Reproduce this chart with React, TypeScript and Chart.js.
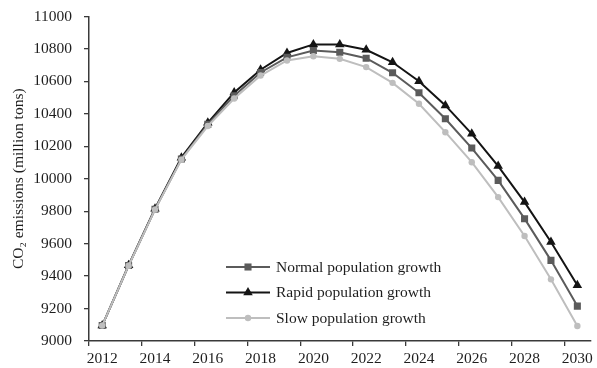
import React, { useEffect, useRef } from "react";
import { Chart, registerables } from "chart.js";

Chart.register(...registerables);

// Projected CO2 emissions (million tons) under three population scenarios
const years = [
  "2012", "2013", "2014", "2015", "2016", "2017", "2018", "2019", "2020", "2021",
  "2022", "2023", "2024", "2025", "2026", "2027", "2028", "2029", "2030",
];
const normalGrowth = [
  9095, 9465, 9812, 10122, 10335, 10512, 10655, 10748, 10790, 10780,
  10743, 10653, 10530, 10370, 10189, 9990, 9754, 9497, 9215,
];
const rapidGrowth = [
  9095, 9467, 9815, 10130, 10345, 10532, 10672, 10775, 10828, 10828,
  10795, 10718, 10601, 10452, 10277, 10078, 9856, 9610, 9343,
];
const slowGrowth = [
  9095, 9464, 9810, 10118, 10325, 10495, 10636, 10729, 10755, 10739,
  10688, 10591, 10462, 10287, 10102, 9887, 9647, 9380, 9092,
];
const seriesNames = [
  "Normal population growth",
  "Rapid population growth",
  "Slow population growth",
];

const FONT_FAMILY = "'Liberation Serif', 'Times New Roman', serif";
const FONT_SIZE = 15.5;
const TEXT_COLOR = "#1e1e1e";
const AXIS_COLOR = "#3a3a3a";
const COLORS = ["#5b5b5b", "#141414", "#bebebe"];
const STYLES = ["rect", "triangle", "circle"] as const;
const RADII = [5, 5.5, 3.2];

function drawMarker(ctx: CanvasRenderingContext2D, style: string, x: number, y: number, r: number, color: string) {
  ctx.beginPath();
  if (style === "rect") {
    const s = Math.SQRT1_2 * r;
    ctx.rect(x - s, y - s, 2 * s, 2 * s);
  } else if (style === "triangle") {
    let rad = 0;
    ctx.moveTo(x + Math.sin(rad) * r, y - Math.cos(rad) * r);
    rad += (2 * Math.PI) / 3;
    ctx.lineTo(x + Math.sin(rad) * r, y - Math.cos(rad) * r);
    rad += (2 * Math.PI) / 3;
    ctx.lineTo(x + Math.sin(rad) * r, y - Math.cos(rad) * r);
    ctx.closePath();
  } else {
    ctx.arc(x, y, r, 0, Math.PI * 2);
  }
  ctx.fillStyle = color;
  ctx.fill();
}

// Legend drawn as a line with a marker in its middle, placed inside the plot
const lineLegend = {
  id: "lineLegend",
  afterDraw(chart: Chart) {
    const ctx = chart.ctx;
    const lineStart = 226;
    const lineEnd = 270;
    const textX = 276;
    const rowY = [267, 292.5, 318];
    ctx.save();
    chart.data.datasets.forEach((ds: any, i: number) => {
      const y = rowY[i];
      ctx.strokeStyle = ds.borderColor;
      ctx.lineWidth = ds.borderWidth;
      ctx.beginPath();
      ctx.moveTo(lineStart, y);
      ctx.lineTo(lineEnd, y);
      ctx.stroke();
      drawMarker(ctx, ds.pointStyle, (lineStart + lineEnd) / 2, y, ds.pointRadius, ds.borderColor);
      ctx.fillStyle = TEXT_COLOR;
      ctx.font = `${FONT_SIZE}px ${FONT_FAMILY}`;
      ctx.textBaseline = "middle";
      ctx.textAlign = "left";
      ctx.fillText(ds.label, textX, y + 0.5);
    });
    ctx.restore();
  },
};

export default function App() {
  const canvasRef = useRef<HTMLCanvasElement | null>(null);

  useEffect(() => {
    document.body.style.margin = "0";
    const canvas = canvasRef.current;
    if (!canvas) return;
    const seriesValues = [normalGrowth, rapidGrowth, slowGrowth];
    const chart = new Chart(canvas, {
      type: "line",
      data: {
        labels: years,
        datasets: seriesValues.map((values, i) => ({
          label: seriesNames[i],
          data: values,
          borderColor: COLORS[i],
          backgroundColor: COLORS[i],
          pointBackgroundColor: COLORS[i],
          pointBorderColor: COLORS[i],
          pointBorderWidth: 0,
          borderWidth: 2,
          pointStyle: STYLES[i],
          pointRadius: RADII[i],
          pointHoverRadius: RADII[i],
          tension: 0,
          fill: false,
          order: [1, 2, 0][i],
        })),
      },
      options: {
        responsive: false,
        animation: false,
        events: [],
        layout: { padding: { top: 16.5, right: 4, left: 0, bottom: 0 } },
        plugins: {
          legend: { display: false },
          tooltip: { enabled: false },
        },
        scales: {
          x: {
            type: "category",
            offset: true,
            grid: {
              offset: true,
              drawOnChartArea: false,
              drawTicks: true,
              tickLength: 5,
              lineWidth: 1.3,
              color: (c: any) => (c.index % 2 === 0 ? AXIS_COLOR : "rgba(0,0,0,0)"),
            },
            border: { display: true, color: AXIS_COLOR, width: 1.5 },
            ticks: {
              autoSkip: false,
              maxRotation: 0,
              padding: 4,
              color: TEXT_COLOR,
              font: { family: FONT_FAMILY, size: FONT_SIZE },
              callback: function (this: any, value: any, index: number) {
                return index % 2 === 0 ? this.getLabelForValue(value) : "";
              },
            },
            afterFit: (scale: any) => {
              scale.height = 27;
            },
          },
          y: {
            min: 9000,
            max: 11000,
            grid: {
              drawOnChartArea: false,
              drawTicks: true,
              tickLength: 5,
              lineWidth: 1.3,
              color: AXIS_COLOR,
            },
            border: { display: true, color: AXIS_COLOR, width: 1.5 },
            ticks: {
              stepSize: 200,
              padding: 12,
              color: TEXT_COLOR,
              font: { family: FONT_FAMILY, size: FONT_SIZE },
              callback: (value: any) => String(value),
            },
            title: {
              display: true,
              text: "CO₂ emissions (million tons)",
              color: TEXT_COLOR,
              font: { family: FONT_FAMILY, size: FONT_SIZE },
              padding: { top: 10, bottom: 0 },
            },
            afterFit: (scale: any) => {
              // fixed axis width; vertical room comes from the layout padding
              scale.width = 89;
              scale.paddingTop = 0;
              scale.paddingBottom = 0;
            },
          },
        },
      },
      plugins: [lineLegend],
    });
    return () => chart.destroy();
  }, []);

  return (
    <div style={{ position: "fixed", left: 0, top: 0, width: 597, height: 368, background: "#fff" }}>
      <canvas ref={canvasRef} width={597} height={368} style={{ display: "block" }} />
    </div>
  );
}
